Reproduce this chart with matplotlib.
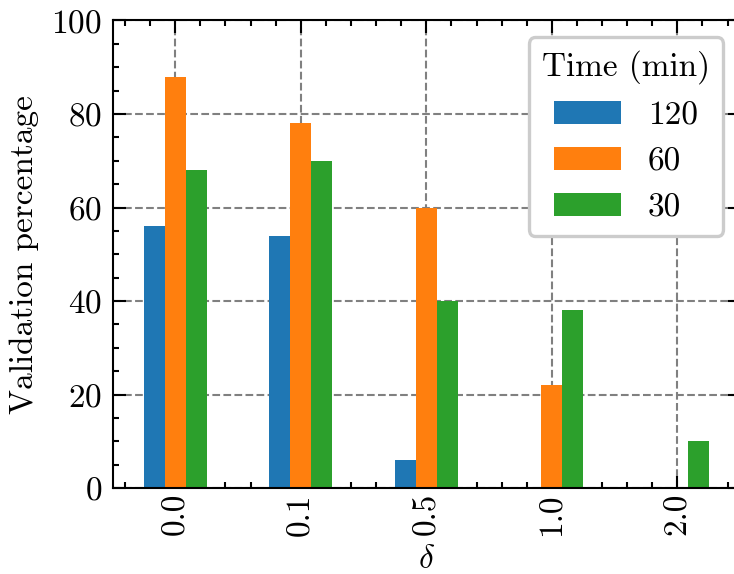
import matplotlib
matplotlib.use("Agg")
import matplotlib.pyplot as plt
import pandas as pd

deltas = ["0.0", "0.1", "0.5", "1.0", "2.0"]
time_labels = ["120", "60", "30"]
val_120 = [56, 54, 6, 0, 0]
val_60 = [88, 78, 60, 22, 0]
val_30 = [68, 70, 40, 38, 10]

plt.rcParams.update({
    "font.family": "serif",
    "font.serif": ["cmr10"],
    "mathtext.fontset": "cm",
    "axes.formatter.use_mathtext": True,
    "font.size": 8,
    "axes.linewidth": 0.5,
    "xtick.direction": "in",
    "ytick.direction": "in",
    "xtick.top": True,
    "ytick.right": True,
    "xtick.minor.visible": True,
    "ytick.minor.visible": True,
    "xtick.major.size": 3,
    "ytick.major.size": 3,
    "xtick.minor.size": 1.5,
    "ytick.minor.size": 1.5,
    "xtick.major.width": 0.5,
    "ytick.major.width": 0.5,
    "xtick.minor.width": 0.5,
    "ytick.minor.width": 0.5,
    "xtick.major.pad": 1.2,
    "ytick.major.pad": 2.5,
    "axes.axisbelow": True,
})

df = pd.DataFrame({time_labels[0]: val_120,
                   time_labels[1]: val_60,
                   time_labels[2]: val_30}, index=deltas)

fig = plt.figure(figsize=(734 / 300, 574 / 300), dpi=300)
ax = fig.add_axes([0.1533, 0.1498, 0.855, 0.8145])
df.plot.bar(ax=ax, color=["#1f77b4", "#ff7f0e", "#2ca02c"], legend=False)

ax.set_ylim(0, 100)
ax.set_yticks([0, 20, 40, 60, 80, 100])
ax.grid(True, which="major", linestyle="--", color="gray", linewidth=0.5)
ax.set_xlabel(r"$\delta$", va="center")
ax.xaxis.set_label_coords(0.5, -0.153)
ax.set_ylabel("Validation percentage", labelpad=3)
leg = ax.legend(title="Time (min)", frameon=True, loc="upper right",
                edgecolor="0.8", framealpha=1.0)
leg.get_frame().set_linewidth(0.8)

fig.savefig("out.png", dpi=300)
